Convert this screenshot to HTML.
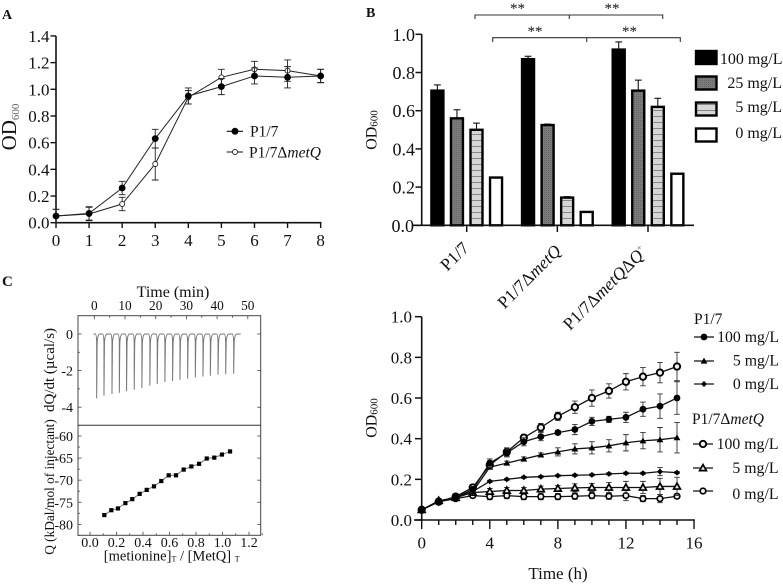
<!DOCTYPE html>
<html lang="en">
<head>
<meta charset="utf-8">
<title>Growth curves and ITC of P1/7 and metQ mutants</title>
<style>
html,body{margin:0;padding:0;background:#fff;width:783px;height:584px;overflow:hidden}
svg{display:block;filter:blur(0.35px)}
text{font-family:"Liberation Serif",serif;fill:#111}
</style>
</head>
<body>
<svg id="fig" xmlns="http://www.w3.org/2000/svg" width="783" height="584" viewBox="0 0 783 584">
<defs>
<pattern id="dots" width="2" height="2" patternUnits="userSpaceOnUse"><rect width="2" height="2" fill="#7c7c7c"/><rect width="1" height="1" fill="#666"/></pattern>
<pattern id="hlines" width="4" height="6" patternUnits="userSpaceOnUse"><rect width="4" height="6" fill="#d6d6d6"/><rect y="2" width="4" height="1" fill="#888"/></pattern>
</defs>
<text x="2" y="19" font-size="14" font-weight="bold">A</text>
<text x="366" y="17" font-size="14" font-weight="bold">B</text>
<text x="2" y="286" font-size="15" font-weight="bold">C</text>

<text transform="translate(16,127) rotate(-90)" text-anchor="middle" font-size="21">OD<tspan font-size="11" dy="3" fill="#666">600</tspan></text>
<text x="250" y="136.7" font-size="15.5">P1/7</text>
<text x="249" y="157.7" font-size="15.5">P1/7Δ<tspan font-style="italic">metQ</tspan></text>

<text transform="translate(376.5,130) rotate(-90)" text-anchor="middle" font-size="16">OD<tspan font-size="11" dy="1">600</tspan></text>
<text transform="translate(470,249) rotate(-45)" text-anchor="end" font-size="17.5">P1/7</text>
<text transform="translate(562,252) rotate(-45)" text-anchor="end" font-size="17.5">P1/7Δ<tspan font-style="italic">metQ</tspan></text>
<text transform="translate(648,253) rotate(-45)" text-anchor="end" font-size="17.5">P1/7Δ<tspan font-style="italic">metQ</tspan>Δ<tspan font-style="italic">Q</tspan><tspan font-size="9" dy="-7" fill="#555">+</tspan></text>
<text x="517.5" y="13" text-anchor="middle" font-size="15" fill="#444">**</text>
<text x="612" y="13" text-anchor="middle" font-size="15" fill="#444">**</text>
<text x="535" y="36" text-anchor="middle" font-size="15" fill="#444">**</text>
<text x="629.5" y="36" text-anchor="middle" font-size="15" fill="#444">**</text>
<path d="M475 19V15H662.7V19M569.3 15V19" fill="none" stroke="#333" stroke-width="1.1"/>
<path d="M492.7 42V37.7H680.3V42M586.7 37.7V42" fill="none" stroke="#333" stroke-width="1.1"/>
<text x="782.5" y="64" text-anchor="end" font-size="16">100 mg/L</text>
<text x="782" y="88" text-anchor="end" font-size="16">25 mg/L</text>
<text x="782" y="112" text-anchor="end" font-size="16">5 mg/L</text>
<text x="782" y="138" text-anchor="end" font-size="16">0 mg/L</text>

<text x="173" y="297" text-anchor="middle" font-size="16">Time (min)</text>
<text transform="translate(54,370) rotate(-90)" text-anchor="middle" font-size="15">dQ/dt (µcal/s)</text>
<text transform="translate(54,487) rotate(-90)" text-anchor="middle" font-size="13.3">Q (kDal/mol of injectant)</text>
<text x="171.7" y="560.7" text-anchor="middle" font-size="14.5">[metionine]<tspan font-size="8" dy="1">T</tspan><tspan dy="-1"> / [MetQ] </tspan><tspan font-size="8" dy="1">T</tspan></text>

<text transform="translate(376.5,418) rotate(-90)" text-anchor="middle" font-size="16">OD<tspan font-size="11" dy="1">600</tspan></text>
<text x="558" y="579" text-anchor="middle" font-size="17">Time (h)</text>
<text x="694" y="324" font-size="15.5">P1/7</text>
<text x="779" y="342" text-anchor="end" font-size="15.8">100 mg/L</text>
<text x="779" y="365.5" text-anchor="end" font-size="15.8">5 mg/L</text>
<text x="779" y="389" text-anchor="end" font-size="15.8">0 mg/L</text>
<text x="692" y="424" font-size="15.5">P1/7Δ<tspan font-style="italic">metQ</tspan></text>
<text x="778.5" y="449" text-anchor="end" font-size="15.8">100 mg/L</text>
<text x="778.5" y="473" text-anchor="end" font-size="15.8">5 mg/L</text>
<text x="778.5" y="499" text-anchor="end" font-size="15.8">0 mg/L</text>
</svg>
<script>
// ---- Panel A data ----
const aHours = [0, 1, 2, 3, 4, 5, 6, 7, 8];
const aWild = [0.05, 0.07, 0.26, 0.63, 0.95, 1.02, 1.10, 1.09, 1.10];
const aWildErr = [0.05, 0.05, 0.05, 0.07, 0.06, 0.06, 0.06, 0.08, 0.05];
const aMutant = [0.05, 0.065, 0.14, 0.44, 0.94, 1.09, 1.15, 1.14, 1.10];
const aMutantErr = [0.05, 0.05, 0.05, 0.12, 0.05, 0.06, 0.06, 0.08, 0.05];
const aYTicks = ['0.0', '0.2', '0.4', '0.6', '0.8', '1.0', '1.2', '1.4'];

// ---- Panel B data ----
const bStrains = ['P1/7', 'P1/7dmetQ', 'P1/7dmetQdQ+'];
const bDoses = ['100', '25', '5', '0'];
const bValues = [[0.705, 0.56, 0.50, 0.25], [0.87, 0.525, 0.145, 0.07], [0.92, 0.705, 0.62, 0.27]];
const bErrors = [[0.03, 0.045, 0.035, 0], [0.015, 0.005, 0.005, 0], [0.04, 0.055, 0.045, 0]];
const bYTicks = ['0.0', '0.2', '0.4', '0.6', '0.8', '1.0'];

// ---- Panel C data ----
const itcTimes = [0.77, 3.15, 5.76, 8.15, 10.5, 13.0, 15.5, 18.1, 20.5, 23.0, 25.5, 27.9, 30.4, 32.9, 35.4, 37.8, 40.3, 42.8, 45.4];
const itcDepths = [-3.51, -3.37, -3.28, -3.22, -3.13, -3.04, -2.95, -2.82, -2.73, -2.62, -2.57, -2.51, -2.44, -2.37, -2.33, -2.28, -2.22, -2.20, -2.17];
const qRatios = [0.108, 0.161, 0.211, 0.267, 0.319, 0.375, 0.428, 0.483, 0.538, 0.594, 0.649, 0.707, 0.765, 0.823, 0.881, 0.938, 0.996, 1.057];
const qHeats = [-77.9, -76.8, -76.4, -75.2, -74.3, -73.1, -72.2, -71.4, -70.2, -68.9, -68.9, -67.6, -66.9, -66.3, -65.1, -64.9, -64.2, -63.5];
const itcTimeTicks = [0, 10, 20, 30, 40, 50];
const itcDqTicks = [0, -2, -4];
const itcQTicks = [-60, -65, -70, -75, -80];
const itcRatioTicks = ['0.0', '0.2', '0.4', '0.6', '0.8', '1.0', '1.2'];

// ---- Panel D data ----
const dHours = [0, 1, 2, 3, 4, 5, 6, 7, 8, 9, 10, 11, 12, 13, 14, 15];
const dP100 = [0.05, 0.09, 0.11, 0.15, 0.28, 0.33, 0.385, 0.41, 0.43, 0.445, 0.485, 0.495, 0.505, 0.545, 0.56, 0.60];
const dP100Err = [0.005, 0.01, 0.01, 0.015, 0.02, 0.02, 0.02, 0.02, 0.01, 0.025, 0.02, 0.015, 0.025, 0.035, 0.06, 0.08];
const dP5 = [0.05, 0.09, 0.11, 0.14, 0.26, 0.28, 0.30, 0.32, 0.335, 0.35, 0.355, 0.365, 0.38, 0.39, 0.395, 0.405];
const dP5Err = [0.005, 0.01, 0.01, 0.01, 0.01, 0.01, 0.01, 0.01, 0.02, 0.025, 0.03, 0.03, 0.04, 0.04, 0.06, 0.075];
const dP0 = [0.05, 0.09, 0.11, 0.14, 0.19, 0.20, 0.21, 0.213, 0.218, 0.22, 0.222, 0.227, 0.23, 0.23, 0.238, 0.233];
const dP0Err = [0.005, 0.005, 0.005, 0.005, 0.005, 0.005, 0.005, 0.005, 0.005, 0.005, 0.005, 0.005, 0.005, 0.005, 0.02, 0.005];
const dM100 = [0.05, 0.09, 0.115, 0.16, 0.27, 0.335, 0.405, 0.455, 0.51, 0.555, 0.60, 0.635, 0.68, 0.705, 0.725, 0.755];
const dM100Err = [0.005, 0.01, 0.01, 0.015, 0.02, 0.02, 0.015, 0.02, 0.02, 0.03, 0.04, 0.035, 0.04, 0.045, 0.05, 0.07];
const dM5 = [0.05, 0.095, 0.11, 0.135, 0.14, 0.145, 0.145, 0.152, 0.155, 0.158, 0.16, 0.16, 0.16, 0.16, 0.165, 0.165];
const dM5Err = [0.005, 0.01, 0.01, 0.01, 0.015, 0.015, 0.015, 0.015, 0.015, 0.02, 0.02, 0.025, 0.03, 0.03, 0.04, 0.045];
const dM0 = [0.05, 0.09, 0.105, 0.12, 0.115, 0.12, 0.115, 0.115, 0.115, 0.117, 0.12, 0.117, 0.12, 0.105, 0.105, 0.117];
const dM0Err = [0.005, 0.01, 0.01, 0.01, 0.015, 0.015, 0.015, 0.015, 0.015, 0.015, 0.015, 0.015, 0.025, 0.015, 0.02, 0.01];
const dXTicks = [0, 4, 8, 12, 16];
const dYTicks = ['0.0', '0.2', '0.4', '0.6', '0.8', '1.0'];

const svg = document.getElementById('fig');
const NS = 'http://www.w3.org/2000/svg';
function add(tag, attrs, name) {
  const el = document.createElementNS(NS, tag);
  for (const k in attrs) el.setAttribute(k, attrs[k]);
  
  
  svg.appendChild(el);
  return el;
}
function line(x1, y1, x2, y2, w, name, color) {
  return add('line', { x1, y1, x2, y2, stroke: color || '#111', 'stroke-width': w }, name);
}
function label(x, y, s, size, anchor, name) {
  const t = add('text', { x, y, 'font-size': size, 'text-anchor': anchor }, name);
  t.textContent = s;
  return t;
}
function errorBar(x, y1, y2, cap, w, name, color) {
  add('path', { d: `M${x - cap} ${y1}H${x + cap}M${x} ${y1}V${y2}M${x - cap} ${y2}H${x + cap}`, fill: 'none', stroke: color || '#222', 'stroke-width': w }, name);
}
function marker(kind, x, y, name) {
  if (kind === 'circle') add('circle', { cx: x, cy: y, r: 3.4, fill: '#000' }, name);
  if (kind === 'triangle') add('path', { d: `M${x} ${y - 3.4}L${x + 3.4} ${y + 2.6}H${x - 3.4}Z`, fill: '#000' }, name);
  if (kind === 'diamond') add('path', { d: `M${x} ${y - 3}L${x + 3} ${y}L${x} ${y + 3}L${x - 3} ${y}Z`, fill: '#000' }, name);
  if (kind === 'ocircle') add('circle', { cx: x, cy: y, r: 3.2, fill: '#eee', stroke: '#000', 'stroke-width': 1.9 }, name);
  if (kind === 'otriangle') add('path', { d: `M${x} ${y - 3.4}L${x + 3.4} ${y + 2.6}H${x - 3.4}Z`, fill: '#eee', stroke: '#000', 'stroke-width': 1.7 }, name);
  if (kind === 'odiamond') add('circle', { cx: x, cy: y, r: 2.8, fill: '#eee', stroke: '#000', 'stroke-width': 1.7 }, name);
}

// ---------- Panel A ----------
const ax = v => 56 + 33.08 * v;
const ay = v => 222.7 - 133.4 * v;
line(56, 36, 56, 223.5, 1.6, 'panel-a-y-axis');
line(55.2, 222.7, ax(8) + 0.8, 222.7, 1.6, 'panel-a-x-axis');
aYTicks.forEach(t => {
  const v = parseFloat(t);
  line(50.5, ay(v), 56, ay(v), 1.4, 'panel-a-y-tick');
  label(49.5, ay(v) + 6, t, 17, 'end', 'panel-a-y-tick-label');
});
aHours.forEach(h => {
  line(ax(h), 222.7, ax(h), 228, 1.4, 'panel-a-x-tick');
  label(ax(h), 246, String(h), 17, 'middle', 'panel-a-x-tick-label');
});
function drawA(vals, errs, kind, name) {
  add('polyline', { points: vals.map((v, i) => ax(aHours[i]) + ',' + ay(v)).join(' '), fill: 'none', stroke: '#222', 'stroke-width': 1 }, name + '-line');
  vals.forEach((v, i) => errorBar(ax(aHours[i]), ay(Math.max(v - errs[i], 0)), ay(v + errs[i]), 3.4, 0.9, name + '-error-bar'));
  vals.forEach((v, i) => {
    if (kind === 'big') add('circle', { cx: ax(aHours[i]), cy: ay(v), r: 3.4, fill: '#000' }, name + '-point');
    else add('circle', { cx: ax(aHours[i]), cy: ay(v), r: 2.5, fill: '#fff', stroke: '#222', 'stroke-width': 0.9 }, name + '-point');
  });
}
drawA(aMutant, aMutantErr, 'small', 'panel-a-metq');
drawA(aWild, aWildErr, 'big', 'panel-a-p17');
line(226.7, 131.3, 243, 131.3, 1.1, 'panel-a-legend-line-p17');
add('circle', { cx: 235, cy: 131.3, r: 3.5, fill: '#000' }, 'panel-a-legend-marker-p17');
line(226.7, 152, 243, 152, 1, 'panel-a-legend-line-metq');
add('circle', { cx: 235, cy: 152, r: 2.5, fill: '#fff', stroke: '#222', 'stroke-width': 0.9 }, 'panel-a-legend-marker-metq');

// ---------- Panel B ----------
const by = v => 225.3 - 191 * v;
const bGroup = i => 466.7 + 90.65 * i;
const bOffset = j => -29.3 + 19.55 * j;
const bFills = ['#000', 'url(#dots)', 'url(#hlines)', '#fff'];
bStrains.forEach((s, i) => {
  bDoses.forEach((d, j) => {
    const cx = bGroup(i) + bOffset(j);
    const v = bValues[i][j];
    if (bErrors[i][j] > 0) {
      line(cx, by(v), cx, by(v + bErrors[i][j]), 1.1, 'bar-error-stem');
      line(cx - 3.4, by(v + bErrors[i][j]), cx + 3.4, by(v + bErrors[i][j]), 1.1, 'bar-error-cap');
    }
    add('rect', { x: cx - 6, y: by(v), width: 12, height: 225.3 - by(v), fill: bFills[j], stroke: '#000', 'stroke-width': 2.4 }, 'bar-' + s + '-' + d);
  });
});
line(421.7, 34.3, 421.7, 226, 1.6, 'panel-b-y-axis');
line(413, 225.3, 694, 225.3, 1.6, 'panel-b-x-axis');
bYTicks.forEach(t => {
  const v = parseFloat(t);
  line(415.5, by(v), 421.7, by(v), 1.5, 'panel-b-y-tick');
  if (v > 0) label(415, by(v) + 6.5, t, 18, 'end', 'panel-b-y-tick-label');
  else label(414, by(v) + 6.5, t, 18, 'end', 'panel-b-y-tick-label');
});
bStrains.forEach((s, i) => line(bGroup(i), 225.3, bGroup(i), 232, 1.5, 'panel-b-x-tick'));
[51, 76.5, 102.5, 128.5].forEach((y, j) => {
  add('rect', { x: 696, y: y, width: 20.5, height: 13, fill: bFills[j], stroke: '#000', 'stroke-width': 2.4 }, 'legend-swatch-' + bDoses[j]);
});

// ---------- Panel C ----------
const frameL = 78, frameR = 260.7, frameT = 315.7, frameB = 535.3, frameM = 425.3;
const tx = v => 94.3 + 3.07 * v;
const dqy = v => 334 - 18.3 * v;
const qy = v => 436 - 4.417 * (v + 60);
const rx = v => 90 + 132.5 * v;
add('rect', { x: frameL, y: frameT, width: frameR - frameL, height: frameB - frameT, fill: 'none', stroke: '#444', 'stroke-width': 1 }, 'itc-frame');
line(frameL, frameM, frameR, frameM, 1, 'itc-divider', '#333');
itcTimeTicks.forEach(t => {
  line(tx(t), frameT, tx(t), frameT + 3.5, 0.8, 'itc-time-tick', '#444');
  label(tx(t), 310, String(t), 13.3, 'middle', 'itc-time-tick-label');
  if (t < 50) line(tx(t + 5), frameT, tx(t + 5), frameT + 2, 0.8, 'itc-time-minor-tick', '#444');
});
itcDqTicks.forEach(v => {
  line(frameL, dqy(v), frameL + 3.5, dqy(v), 0.8, 'itc-dq-tick', '#444');
  line(frameR - 3.5, dqy(v), frameR, dqy(v), 0.8, 'itc-dq-tick-right', '#444');
  line(frameL, dqy(v - 1), frameL + 2, dqy(v - 1), 0.8, 'itc-dq-minor-tick', '#444');
  label(73, dqy(v) + 5, String(v), 14, 'end', 'itc-dq-tick-label');
});
itcQTicks.forEach(v => {
  line(frameL, qy(v), frameL + 3.5, qy(v), 0.8, 'itc-q-tick', '#444');
  line(frameR - 3.5, qy(v), frameR, qy(v), 0.8, 'itc-q-tick-right', '#444');
  line(frameL, qy(v - 2.5), frameL + 2, qy(v - 2.5), 0.8, 'itc-q-minor-tick', '#444');
  label(73, qy(v) + 5, String(v), 14, 'end', 'itc-q-tick-label');
});
itcRatioTicks.forEach(t => {
  const v = parseFloat(t);
  line(rx(v), frameB - 3.5, rx(v), frameB, 0.8, 'itc-ratio-tick', '#444');
  line(rx(v + 0.1), frameB - 2, rx(v + 0.1), frameB, 0.8, 'itc-ratio-minor-tick', '#444');
  label(rx(v), 547, t, 14, 'middle', 'itc-ratio-tick-label');
});
let itcPath = `M${tx(-0.3)} ${dqy(0)}`;
itcTimes.forEach((t, i) => {
  const x = tx(t);
  itcPath += `L${x - 1.4} ${dqy(0)}Q${x - 0.2} ${dqy(0)} ${x} ${dqy(-0.5)}L${x} ${dqy(itcDepths[i])}L${x + 0.5} ${dqy(-0.5)}Q${x + 0.9} ${dqy(-0.02)} ${x + 3} ${dqy(0)}`;
});
itcPath += `L${tx(47.7)} ${dqy(0)}`;
add('path', { d: itcPath, fill: 'none', stroke: '#777', 'stroke-width': 1 }, 'itc-thermogram');
add('polyline', { points: qRatios.map((r, i) => rx(r) + ',' + qy(qHeats[i])).join(' '), fill: 'none', stroke: '#777', 'stroke-width': 1 }, 'itc-fit-line');
qRatios.forEach((r, i) => {
  add('rect', { x: rx(r) - 2.1, y: qy(qHeats[i]) - 2.1, width: 4.2, height: 4.2, fill: '#000' }, 'itc-point');
});

// ---------- Panel D ----------
const dx = v => 421.7 + 17.02 * v;
const dy = v => 520 - 203.3 * v;
line(421.7, 316.7, 421.7, 520.8, 1.6, 'panel-d-y-axis');
line(414, 520, 694.8, 520, 1.6, 'panel-d-x-axis');
dYTicks.forEach(t => {
  const v = parseFloat(t);
  line(415, dy(v), 421.7, dy(v), 1.5, 'panel-d-y-tick');
  label(412, dy(v) + 6, t, 17, 'end', 'panel-d-y-tick-label');
});
dHours.concat([16]).forEach(h => {
  const major = h % 4 === 0;
  line(dx(h), 520, dx(h), major ? 529 : 525, 1.4, 'panel-d-x-tick');
});
dXTicks.forEach(h => label(dx(h), 548.3, String(h), 17, 'middle', 'panel-d-x-tick-label'));
function drawD(vals, errs, kind, name) {
  vals.forEach((v, i) => errorBar(dx(dHours[i]), dy(Math.max(v - errs[i], 0)), dy(v + errs[i]), 2.8, 0.9, name + '-error-bar', '#333'));
  add('polyline', { points: vals.map((v, i) => dx(dHours[i]) + ',' + dy(v)).join(' '), fill: 'none', stroke: '#111', 'stroke-width': 1.3 }, name + '-line');
  vals.forEach((v, i) => marker(kind, dx(dHours[i]), dy(v), name + '-point'));
}
drawD(dM0, dM0Err, 'odiamond', 'series-metq-0');
drawD(dM5, dM5Err, 'otriangle', 'series-metq-5');
drawD(dP0, dP0Err, 'diamond', 'series-p17-0');
drawD(dP5, dP5Err, 'triangle', 'series-p17-5');
drawD(dM100, dM100Err, 'ocircle', 'series-metq-100');
drawD(dP100, dP100Err, 'circle', 'series-p17-100');
[[337, 'circle', 694, 714], [361, 'triangle', 694, 714], [384, 'diamond', 694, 714], [444, 'ocircle', 693, 713], [468, 'otriangle', 693, 713], [491, 'odiamond', 693, 713]].forEach(r => {
  line(r[2], r[0], r[3], r[0], 1.2, 'panel-d-legend-line');
  marker(r[1], (r[2] + r[3]) / 2, r[0], 'panel-d-legend-marker');
});
</script>
</body>
</html>
